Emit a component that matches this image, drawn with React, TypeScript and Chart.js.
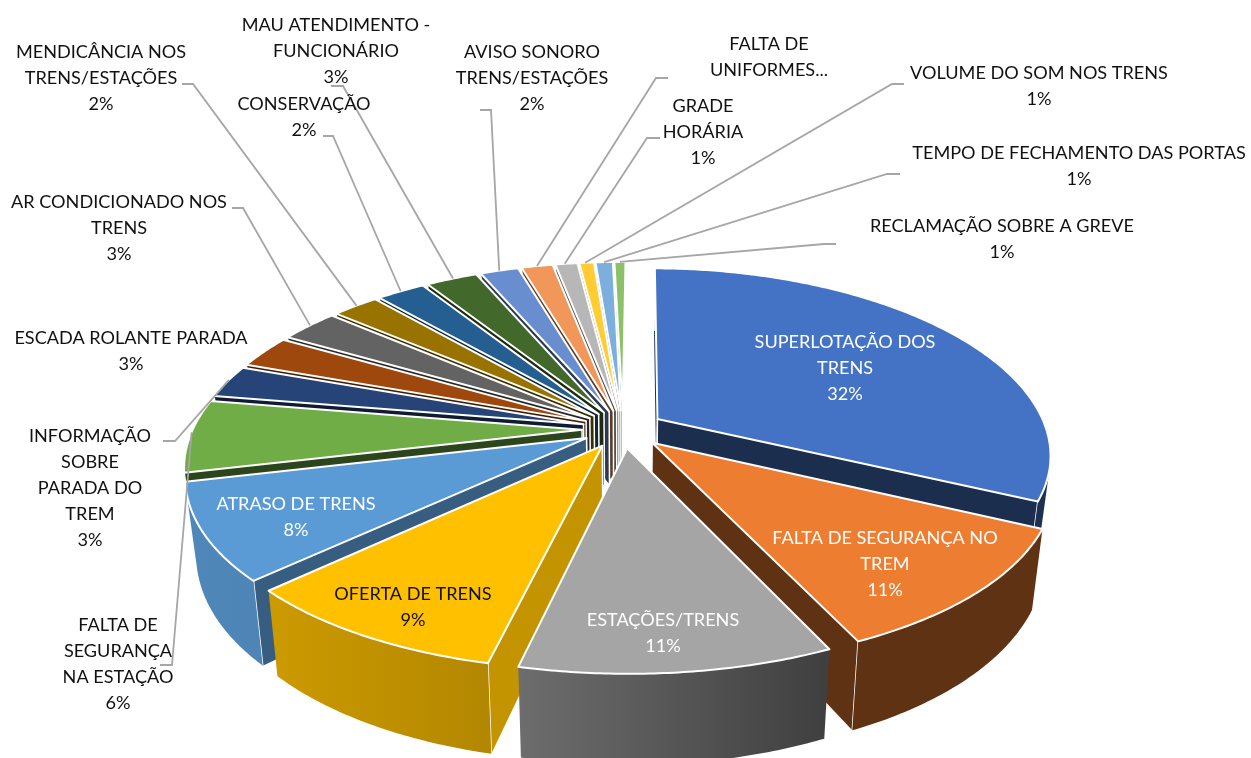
import React, { useEffect, useRef } from "react";
import { Chart, registerables } from "chart.js";

Chart.register(...registerables);

const categories = [
  "SUPERLOTAÇÃO DOS TRENS", "FALTA DE SEGURANÇA NO TREM", "ESTAÇÕES/TRENS", "OFERTA DE TRENS",
  "ATRASO DE TRENS", "FALTA DE SEGURANÇA NA ESTAÇÃO", "INFORMAÇÃO SOBRE PARADA DO TREM",
  "ESCADA ROLANTE PARADA", "AR CONDICIONADO NOS TRENS", "MENDICÂNCIA NOS TRENS/ESTAÇÕES",
  "CONSERVAÇÃO", "MAU ATENDIMENTO - FUNCIONÁRIO", "AVISO SONORO TRENS/ESTAÇÕES",
  "FALTA DE UNIFORMES...", "GRADE HORÁRIA", "VOLUME DO SOM NOS TRENS",
  "TEMPO DE FECHAMENTO DAS PORTAS", "RECLAMAÇÃO SOBRE A GREVE",
];
const values = [32, 11, 10.5, 9.3, 8.4, 6.3, 2.85, 2.85, 2.9, 2.3, 2.4, 2.56, 1.9, 1.55, 1.1, 0.72, 0.86, 0.55];
const percentLabels = ["32%", "11%", "11%", "9%", "8%", "6%", "3%", "3%", "3%", "2%", "2%", "3%", "2%", "", "1%", "1%", "1%", "1%"];
const labelLines = [
  ["SUPERLOTAÇÃO DOS", "TRENS"], ["FALTA DE SEGURANÇA NO", "TREM"], ["ESTAÇÕES/TRENS"], ["OFERTA DE TRENS"],
  ["ATRASO DE TRENS"], ["FALTA DE", "SEGURANÇA", "NA ESTAÇÃO"], ["INFORMAÇÃO", "SOBRE", "PARADA DO", "TREM"],
  ["ESCADA ROLANTE PARADA"], ["AR CONDICIONADO NOS", "TRENS"], ["MENDICÂNCIA NOS", "TRENS/ESTAÇÕES"],
  ["CONSERVAÇÃO"], ["MAU ATENDIMENTO -", "FUNCIONÁRIO"], ["AVISO SONORO", "TRENS/ESTAÇÕES"],
  ["FALTA DE", "UNIFORMES..."], ["GRADE", "HORÁRIA"], ["VOLUME DO SOM NOS TRENS"],
  ["TEMPO DE FECHAMENTO DAS PORTAS"], ["RECLAMAÇÃO SOBRE A GREVE"],
];
const colors = [
  "#4472C4", "#ED7D31", "#A5A5A5", "#FFC000", "#5B9BD5", "#70AD47", "#264478", "#9E480E", "#636363",
  "#997300", "#255E91", "#43682B", "#698ED0", "#F1975A", "#B7B7B7", "#FFCD33", "#7CAFDD", "#8CC168",
];
// shade factors of the cut faces and of the outer wall (left, right)
const cutShade = [0.4, 0.4, 0.5, 0.77, 0.6, 0.4, 0.4, 0.4, 0.4, 0.4, 0.4, 0.4, 0.4, 0.4, 0.4, 0.4, 0.4, 0.4];
const wallShadeA = [0.42, 0.4, 0.66, 0.8, 0.87, 0.85, 0.7, 0.7, 0.7, 0.7, 0.7, 0.7, 0.7, 0.7, 0.7, 0.7, 0.7, 0.7];
const wallShadeB = [0.42, 0.4, 0.38, 0.65, 0.8, 0.85, 0.7, 0.7, 0.7, 0.7, 0.7, 0.7, 0.7, 0.7, 0.7, 0.7, 0.7, 0.7];

// label layout: centre x, y of first line centre, text colour
const labelX = [845, 885, 663, 413, 296, 118, 90, 131, 119, 101, 304, 336, 532, 769, 703, 1039, 1079, 1002];
const labelY = [341, 537, 619, 593, 503, 624, 435, 337, 201, 51, 103, 24, 51, 43, 105, 72, 152, 225];
const labelColor = ["#fff", "#fff", "#fff", "#111", "#fff"];
// leader elbows: [start x, elbow x, y] or null
const leaders: (number[] | null)[] = [
  null, null, null, null, null, [160, 172, 665], [163, 175, 441], null, [232, 243, 208], [182, 193, 84],
  [323, 333, 136], [331, 343, 86], [480, 491, 110], [668, 656, 78], [660, 647, 138], [904, 892, 84],
  [900, 887, 174], [836, 824, 244],
];
// where along the rim (0..1) a leader touches its slice
const leaderAt = [0.5, 0.5, 0.5, 0.5, 0.5, 0.55, 0.6, 0.5, 0.55, 0.55, 0.55, 0.55, 0.55, 0.55, 0.5, 0.5, 0.5, 0.5];

const PERSPECTIVE_Y = 0.171;
const PERSPECTIVE_X = 0.188;
const TILT = 0.462;
const DEPTH = 74;
const BASE_SHRINK = 0.975;
const LINE_H = 26.2;

function shade(hex: string, f: number) {
  const n = parseInt(hex.slice(1), 16);
  const c = [(n >> 16) & 255, (n >> 8) & 255, n & 255].map((v) => Math.round(v * f));
  return `rgb(${c[0]},${c[1]},${c[2]})`;
}

const pie3d = {
  id: "pie3d",
  beforeDatasetDraw(chart: any) {
    const ctx: CanvasRenderingContext2D = chart.ctx;
    const arcs = chart.getDatasetMeta(0).data;
    const cx = arcs[0].x;
    const cy = arcs[0].y;
    const R = arcs[0].outerRadius;

    const project = (u: number, v: number, base: boolean) => {
      const sx = 1 / (1 - (PERSPECTIVE_X * v) / R);
      const sy = 1 / (1 - (PERSPECTIVE_Y * v) / R);
      return {
        x: cx + u * sx * (base ? BASE_SHRINK : 1),
        y: cy + TILT * v * sy + (base ? DEPTH * sy : 0),
      };
    };

    const outline = (i: number) => {
      const a = arcs[i];
      const mid = (a.startAngle + a.endAngle) / 2;
      const off = a.options.offset / 4;
      const ou = Math.cos(mid) * off;
      const ov = Math.sin(mid) * off;
      const pts: [number, number][] = [[ou, ov]];
      const n = Math.max(2, Math.ceil((a.endAngle - a.startAngle) / 0.01));
      for (let k = 0; k <= n; k++) {
        const t = a.startAngle + ((a.endAngle - a.startAngle) * k) / n;
        pts.push([ou + Math.cos(t) * R, ov + Math.sin(t) * R]);
      }
      return { pts, ov, ou, mid };
    };

    const poly = (pts: { x: number; y: number }[]) => {
      ctx.beginPath();
      pts.forEach((p, k) => (k ? ctx.lineTo(p.x, p.y) : ctx.moveTo(p.x, p.y)));
      ctx.closePath();
    };
    const area = (q: { x: number; y: number }[]) =>
      q.reduce((sum, p, k) => {
        const r = q[(k + 1) % q.length];
        return sum + p.x * r.y - r.x * p.y;
      }, 0);

    const order = arcs.map((_: any, i: number) => i).sort((a: number, b: number) => outline(a).ov - outline(b).ov);

    ctx.save();
    ctx.lineJoin = "round";
    for (const i of order) {
      const { pts } = outline(i);
      const color = colors[i];
      const top = pts.map((p) => project(p[0], p[1], false));
      const bot = pts.map((p) => project(p[0], p[1], true));
      const last = pts.length - 1;
      // the closing face of a slice that ends about at twelve o'clock is edge-on
      const endNearTop = Math.abs(arcs[i].endAngle + Math.PI / 2 - 2 * Math.PI) < 0.035;

      const faces: [number, number][] = [[0, 1]];
      if (!endNearTop) faces.push([last, 0]);
      // cut faces
      for (const [a, b] of faces) {
        const q = [top[a], top[b], bot[b], bot[a]];
        if (area(q) < 0) {
          ctx.fillStyle = shade(color, cutShade[i]);
          poly(q);
          ctx.fill();
          ctx.strokeStyle = "#ffffff";
          ctx.lineWidth = 1.5;
          for (const e of [a, b]) {
            ctx.beginPath();
            ctx.moveTo(top[e].x, top[e].y);
            ctx.lineTo(bot[e].x, bot[e].y);
            ctx.stroke();
          }
        }
      }
      // outer wall: one polygon per contiguous run of viewer-facing rim
      const xs = top.map((p) => p.x);
      const grad = ctx.createLinearGradient(Math.min(...xs), 0, Math.max(...xs), 0);
      grad.addColorStop(0, shade(color, wallShadeA[i]));
      grad.addColorStop(1, shade(color, wallShadeB[i]));
      let runStart = -1;
      const flush = (end: number) => {
        if (runStart < 0) return;
        const outlinePts = [...top.slice(runStart, end + 1), ...bot.slice(runStart, end + 1).reverse()];
        ctx.fillStyle = grad;
        poly(outlinePts);
        ctx.fill();
        runStart = -1;
      };
      for (let k = 1; k < last; k++) {
        const q = [top[k], top[k + 1], bot[k + 1], bot[k]];
        if (area(q) < 0) {
          if (runStart < 0) runStart = k;
        } else {
          flush(k);
        }
      }
      flush(last);
      // top face
      ctx.fillStyle = color;
      poly(top);
      ctx.fill();
      ctx.strokeStyle = "#ffffff";
      ctx.lineWidth = 2;
      ctx.stroke();
    }

    // leader lines end on the rim of their slice
    ctx.strokeStyle = "#a6a6a6";
    ctx.lineWidth = 1.8;
    ctx.lineJoin = "miter";
    leaders.forEach((l, i) => {
      if (!l) return;
      const { pts } = outline(i);
      const m = pts[1 + Math.floor((pts.length - 2) * leaderAt[i])];
      const e = project(m[0], m[1], false);
      ctx.beginPath();
      ctx.moveTo(l[0], l[2]);
      ctx.lineTo(l[1], l[2]);
      ctx.lineTo(e.x, e.y);
      ctx.stroke();
    });

    // labels
    ctx.font = '18.1px Lato, "Open Sans", sans-serif';
    ctx.textAlign = "center";
    ctx.textBaseline = "alphabetic";
    labelLines.forEach((lines, i) => {
      ctx.fillStyle = labelColor[i] || "#111";
      const all = percentLabels[i] ? [...lines, percentLabels[i]] : lines;
      all.forEach((t, k) => ctx.fillText(t, labelX[i], labelY[i] + k * LINE_H + 6.5));
    });
    ctx.restore();
    return false;
  },
};

export default function App() {
  const ref = useRef<HTMLCanvasElement>(null);
  useEffect(() => {
    const chart = new Chart(ref.current!, {
      type: "pie",
      data: {
        labels: categories,
        datasets: [{ data: values, backgroundColor: colors, borderColor: "#ffffff", borderWidth: 2, offset: 164, radius: 389 } as any],
      },
      options: {
        responsive: false,
        animation: false,
        rotation: 0.5,
        radius: 389,
        layout: { padding: { left: 0, right: 5, top: 100, bottom: 0 } },
        plugins: { legend: { display: false }, tooltip: { enabled: false }, title: { display: false } },
      } as any,
      plugins: [pie3d as any],
    });
    return () => chart.destroy();
  }, []);
  return (
    <div style={{ position: "fixed", left: 0, top: 0, width: 1251, height: 758, background: "#fff" }}>
      <canvas ref={ref} width={1251} height={758} style={{ display: "block" }} />
    </div>
  );
}
